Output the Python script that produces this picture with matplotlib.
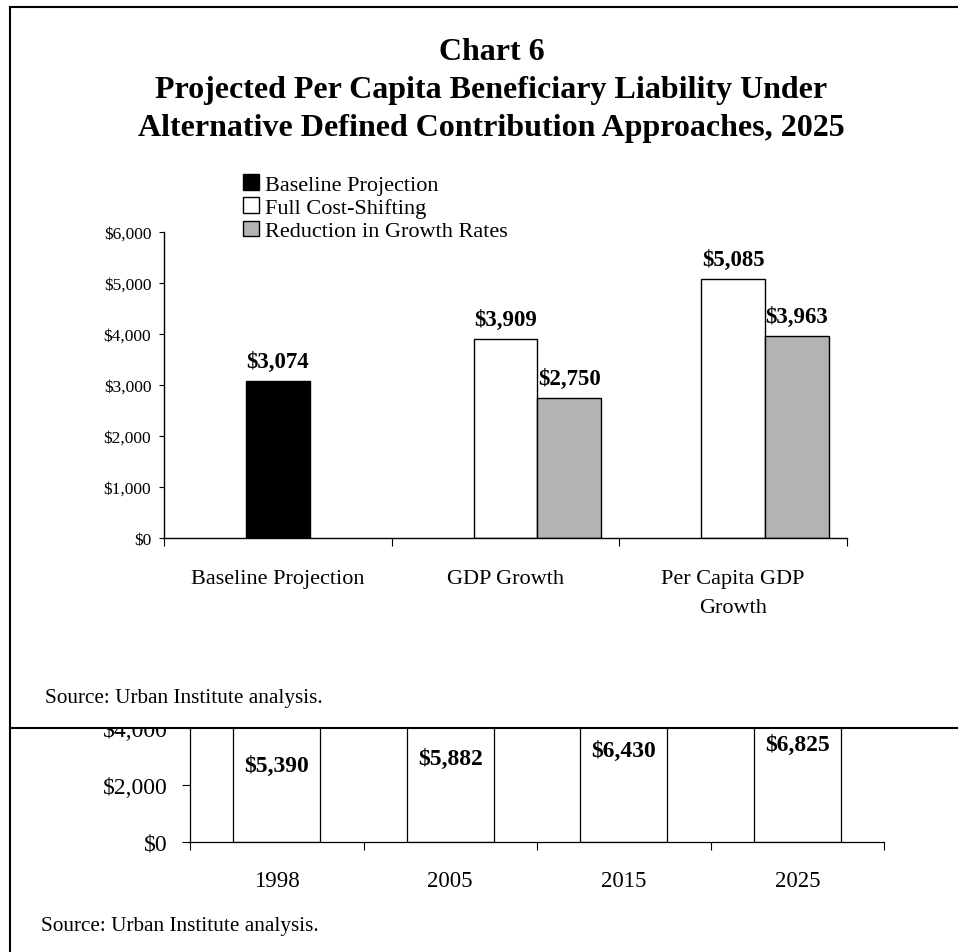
import numpy as np
import matplotlib
matplotlib.use("Agg")
import matplotlib.pyplot as plt
from matplotlib.patches import Rectangle
from matplotlib.lines import Line2D
from matplotlib.ticker import FuncFormatter

plt.rcParams["font.family"] = ["Liberation Serif", "DejaVu Serif"]

# ---- main chart data (2025 per capita liability) ----
categories = ["Baseline Projection", "GDP Growth", "Per Capita GDP\nGrowth"]
series_names = ["Baseline Projection", "Full Cost-Shifting", "Reduction in Growth Rates"]
baseline = [3074, np.nan, np.nan]
full_cost = [np.nan, 3909, 5085]
reduction = [np.nan, 2750, 3963]

# ---- partially covered chart underneath ----
years = ["1998", "2005", "2015", "2025"]
year_values = [5390, 5882, 6430, 6825]

W, H = 958, 953
fig = plt.figure(figsize=(W / 100, H / 100), dpi=100)
fig.patch.set_facecolor("white")


def fx(px):
    return px / W


def fy(py):
    return 1 - py / H


money = FuncFormatter(lambda v, p: "${:,.0f}".format(v))

# ---------- lower chart (drawn first, covered by the framed chart) ----------
ax2 = fig.add_axes([fx(190), fy(843), fx(884) - fx(190), 228 / H])
ax2.set_zorder(0)
xb = np.arange(len(years))
bars2 = ax2.bar(xb, year_values, width=0.5, color="white",
                edgecolor="black", linewidth=0.9, zorder=2)
ax2.bar_label(bars2, labels=["${:,}".format(v) for v in year_values],
              label_type="center", fontsize=17, fontweight="bold")
ax2.set_xlim(-0.5, len(years) - 0.5)
ax2.set_ylim(0, 8000)
ax2.set_yticks(np.arange(0, 8001, 2000))
ax2.yaxis.set_major_formatter(money)
ax2.set_xticks(xb, labels=years)
ax2.set_xticks(np.arange(-0.5, len(years)), minor=True)
ax2.tick_params(axis="x", which="major", length=0, pad=20, labelsize=16.5)
ax2.tick_params(axis="x", which="minor", length=6, width=0.8, direction="out")
ax2.tick_params(axis="y", length=6, width=0.8, pad=10, labelsize=17)
for s in ("top", "right"):
    ax2.spines[s].set_visible(False)
for s in ("left", "bottom"):
    ax2.spines[s].set_linewidth(0.9)

fig.text(fx(41), fy(927), "Source: Urban Institute analysis.",
         fontsize=15.3, va="center", ha="left")

# ---------- framed chart ----------
frame = Rectangle((fx(9.5), fy(728.5)), fx(962) - fx(9.5), fy(7.5) - fy(728.5),
                  transform=fig.transFigure, facecolor="white",
                  edgecolor="black", linewidth=1.5, zorder=1)
fig.add_artist(frame)
fig.add_artist(Line2D([fx(9.5), fx(9.5)], [0, fy(728.5)],
                      transform=fig.transFigure, color="black", linewidth=1.5,
                      zorder=1))

ax = fig.add_axes([fx(164), fy(539), fx(847) - fx(164), 306 / H])
ax.set_zorder(2)
ax.set_facecolor("none")

x = np.arange(len(categories))
bw = 0.28
fills = ["black", "white", "#b3b3b3"]
offsets = [0.0, 0.0, bw]
handles = []
for vals, name, fc, off in zip([baseline, full_cost, reduction], series_names, fills, offsets):
    cont = ax.bar(x + off, vals, width=bw, color=fc, edgecolor="black",
                  linewidth=1.0, label=name, zorder=2)
    labels = ["" if np.isnan(v) else "${:,.0f}".format(v) for v in vals]
    ax.bar_label(cont, labels=labels, padding=6.5, fontsize=16.5,
                 fontweight="bold")
    handles.append(cont)

ax.set_xlim(-0.5, len(categories) - 0.5)
ax.set_ylim(0, 6000)
ax.set_yticks(np.arange(0, 6001, 1000))
ax.yaxis.set_major_formatter(money)
ax.set_xticks(x, labels=categories)
ax.set_xticks(np.arange(-0.5, len(categories)), minor=True)
ax.tick_params(axis="x", which="major", length=0, pad=22.5, labelsize=16)
ax.tick_params(axis="x", which="minor", length=6, width=0.8, direction="out")
ax.tick_params(axis="y", length=3.6, width=0.8, pad=5.5, labelsize=12.5)
for lbl in ax.get_xticklabels():
    lbl.set_linespacing(1.7)
for s in ("top", "right"):
    ax.spines[s].set_visible(False)
for s in ("left", "bottom"):
    ax.spines[s].set_linewidth(1.0)

fig.legend(handles=handles, labels=series_names, loc="upper left",
           bbox_to_anchor=(fx(243), fy(175)), bbox_transform=fig.transFigure,
           frameon=False, fontsize=16, handlelength=0.7, handleheight=0.7,
           handletextpad=0.3, labelspacing=0.13, borderpad=0,
           borderaxespad=0)

fig.text(fx(491.5), fy(38), "Chart 6\nProjected Per Capita Beneficiary Liability Under\n"
         "Alternative Defined Contribution Approaches, 2025",
         ha="center", va="top", fontsize=23, fontweight="bold", linespacing=1.42)

fig.text(fx(45), fy(699), "Source: Urban Institute analysis.",
         fontsize=15.3, va="center", ha="left")

fig.savefig("out.png", dpi=100)
